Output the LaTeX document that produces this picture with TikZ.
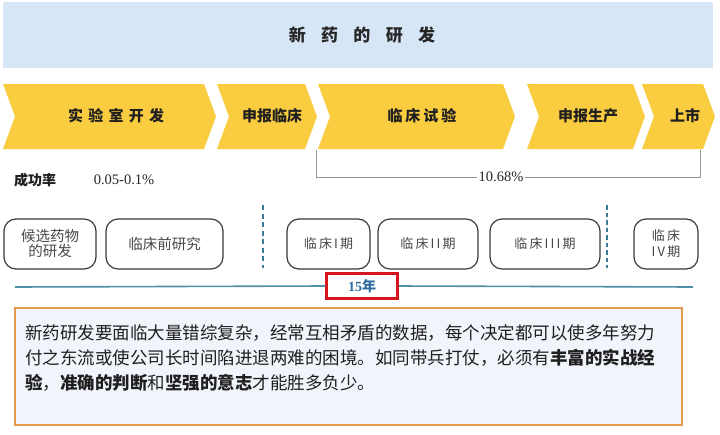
\documentclass[tikz,border=0pt]{standalone}
\usepackage{fontspec}
\setmainfont{Noto Sans CJK SC}
\newfontfamily\serifnum{Liberation Serif}
\definecolor{titleblue}{RGB}{214,230,246}
\definecolor{chevy}{RGB}{250,204,64}
\definecolor{boxline}{RGB}{58,58,58}
\definecolor{dashblue}{RGB}{60,122,154}
\definecolor{tealline}{RGB}{79,143,168}
\definecolor{redbox}{RGB}{212,20,30}
\definecolor{yearblue}{RGB}{47,108,160}
\definecolor{orangeline}{RGB}{228,156,76}
\definecolor{paperfill}{RGB}{241,245,251}
\definecolor{bracketgray}{RGB}{150,150,150}
\tikzset{
  chev/.style={fill=chevy},
  chevtext/.style={font=\fontsize{15}{18}\selectfont\bfseries, text=black!88, inner sep=0pt},
  stagebox/.style={draw=boxline, line width=1.2pt, rounded corners=12pt, minimum height=50pt,
    inner sep=0pt, align=center, text=black!72, font=\fontsize{14.5}{17}\selectfont},
  phasedash/.style={draw=dashblue, line width=1.6pt, dash pattern=on 5pt off 3.5pt},
  bracket/.style={draw=bracketgray, line width=1pt},
  paratext/.style={anchor=west, inner sep=0pt, text=black!88, font=\fontsize{17.5}{20}\selectfont}
}
\begin{document}
\begin{tikzpicture}[x=1pt,y=-1pt]
\useasboundingbox (0,0) rectangle (720,434);
\fill[white] (0,0) rectangle (720,434);
% title band
\fill[titleblue] (3,2) rectangle (713,68);
\node[font=\fontsize{17}{20}\selectfont\bfseries, text=black!85] (title) at (362,35)
  {新\hspace{0.9em}药\hspace{0.9em}的\hspace{0.9em}研\hspace{0.9em}发};
% chevrons
\fill[chev] (3,84) -- (204,84) -- (216,116.5) -- (204,149) -- (3,149) -- (15,116.5) -- cycle;
\fill[chev] (217,84) -- (305,84) -- (317,116.5) -- (305,149) -- (217,149) -- (229,116.5) -- cycle;
\fill[chev] (318,84) -- (503,84) -- (515,116.5) -- (503,149) -- (318,149) -- (330,116.5) -- cycle;
\fill[chev] (527,84) -- (633,84) -- (645,116.5) -- (633,149) -- (527,149) -- (539,116.5) -- cycle;
\fill[chev] (642,84) -- (703,84) -- (715,116.5) -- (703,149) -- (642,149) -- (654,116.5) -- cycle;
\node[chevtext] (c1) at (116,116) {实\hspace{0.35em}验\hspace{0.35em}室\hspace{0.35em}开\hspace{0.35em}发};
\node[chevtext] (c2) at (272,116) {申报临床};
\node[chevtext] (c3) at (422,116) {临\hspace{0.2em}床\hspace{0.2em}试\hspace{0.2em}验};
\node[chevtext] (c4) at (588,116) {申报生产};
\node[chevtext] (c5) at (685,116) {上市};
% success rate
\node[font=\fontsize{14}{17}\selectfont\bfseries, text=black!88, inner sep=0pt] (rate) at (35,180) {成功率};
\node[font=\serifnum\fontsize{14.5}{17}\selectfont, text=black!85, inner sep=0pt] (rateval) at (124,180) {0.05-0.1\%};
% bracket
\coordinate (bl) at (316,150);
\coordinate (br) at (700,150);
\coordinate (bbl) at (316,177);
\coordinate (bbr) at (700,177);
\draw[bracket] (bl) -- (bbl) -- (bbr) -- (br);
\node[fill=white, inner sep=2pt, font=\serifnum\fontsize{14.5}{17}\selectfont, text=black!85] (clin) at (501,177) {10.68\%};
% dashed phase separators
\coordinate (d1t) at (263,205);
\coordinate (d1b) at (263,268);
\coordinate (d2t) at (607,205);
\coordinate (d2b) at (607,268);
\draw[phasedash] (d1t) -- (d1b);
\draw[phasedash, line width=1.1pt, dash pattern=on 4.5pt off 3pt] (d2t) -- (d2b);
% stage boxes
\node[stagebox, minimum width=92pt] (s1) at (50,244) {候选药物\\[-2pt]的研发};
\node[stagebox, minimum width=117pt] (s2) at (164.5,244) {临床前研究};
\node[stagebox, minimum width=83pt, font=\fontsize{13}{16}\selectfont] (s3) at (328.5,244) {临\,床\,I\,期};
\node[stagebox, minimum width=100pt, font=\fontsize{13}{16}\selectfont] (s4) at (428,244) {临\,床\,I\,I\,期};
\node[stagebox, minimum width=110pt, font=\fontsize{13}{16}\selectfont] (s5) at (545,244) {临\,床\,I\,I\,I\,期};
\node[stagebox, minimum width=64pt, font=\fontsize{13}{16}\selectfont] (s6) at (666,244) {临\,床\\[0pt]I\,V\,期};
% time line
\node[draw=redbox, line width=2.5pt, fill=white, minimum width=71pt, minimum height=25pt, inner sep=0pt,
  text=yearblue, font=\fontsize{14}{17}\selectfont\bfseries] (years) at (362,286) {{\serifnum 15}年};
\coordinate (tl) at (15,287);
\coordinate (tr) at (693,287);
\draw[tealline, line width=1.6pt] (tl) -- (years.west);
\draw[tealline, line width=1.6pt] (years.east) -- (tr);
% text box
\node[draw=orangeline, line width=2.5pt, fill=paperfill, minimum width=667pt, minimum height=117pt, inner sep=0pt] (para) at (348.5,366.5) {};
\node[paratext] (p1) at (25,333) {新药研发要面临大量错综复杂，经常互相矛盾的数据，每个决定都可以使多年努力};
\node[paratext] (p2) at (25,358) {付之东流或使公司长时间陷进退两难的困境。如同带兵打仗，必须有\textbf{丰富的实战经}};
\node[paratext] (p3) at (25,383) {\textbf{验}，\textbf{准确的判断}和\textbf{坚强的意志}才能胜多负少。};
\end{tikzpicture}
\end{document}
